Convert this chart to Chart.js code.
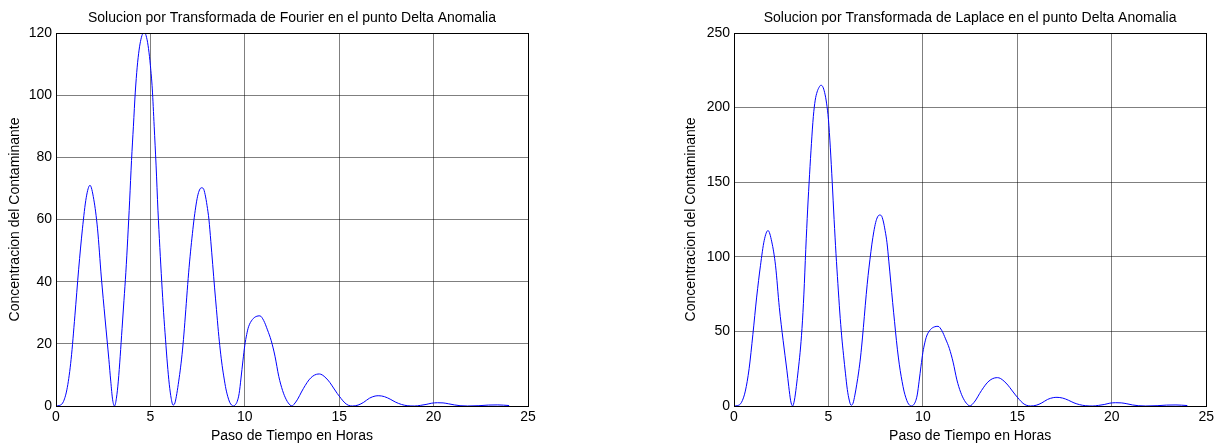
<!DOCTYPE html>
<html>
<head>
<meta charset="utf-8">
<script src="https://cdn.jsdelivr.net/npm/chart.js@4"></script>
<style>
    html, body { margin: 0; padding: 0; background: #fff; }
    .box { position: absolute; top: 0; height: 448px; }
    #boxF { left: 0; width: 608px; }
    #boxL { left: 676px; width: 541px; }
</style>
</head>
<body>
<div class="box" id="boxF"><canvas id="chartF" width="608" height="448"></canvas></div>
<div class="box" id="boxL"><canvas id="chartL" width="541" height="448"></canvas></div>
<script>
// Tiempo (horas)
const horas = [
    0, 0.2, 0.4, 0.6, 0.8, 1.0, 1.2, 1.4, 1.6, 1.8, 2.0, 2.2, 2.4, 2.6, 2.8, 2.9, 3.0, 3.1,
    3.2, 3.3, 3.4, 3.5, 3.6, 3.7, 3.8, 3.9, 4.0, 4.1, 4.2, 4.3, 4.4, 4.5, 4.6, 4.7, 4.8, 4.9,
    5.0, 5.1, 5.2, 5.3, 5.4, 5.5, 5.6, 5.7, 5.8, 5.9, 6.0, 6.1, 6.2,
    6.3, 6.4, 6.5, 6.6, 6.7, 6.8, 6.9, 7.0, 7.1, 7.2, 7.3, 7.4, 7.5, 7.6, 7.7, 7.8, 7.9,
    8.0, 8.1, 8.2, 8.3, 8.4, 8.5, 8.6, 8.7, 8.8, 8.9, 9.0, 9.1, 9.2, 9.3, 9.4,
    9.5, 9.6, 9.7, 9.8, 9.9, 10.0, 10.1, 10.2, 10.4, 10.6, 10.8, 11.0, 11.2, 11.4, 11.6, 11.8, 12.0, 12.2, 12.4, 12.5,
    12.6, 12.8, 13.0, 13.2, 13.4, 13.6, 13.8, 13.95, 14.1, 14.3, 14.5, 14.7, 14.9, 15.1, 15.3, 15.5, 15.7,
    16.0, 16.3, 16.6, 16.9, 17.1, 17.4, 17.7, 18.0, 18.3, 18.6, 19.0,
    19.3, 19.6, 19.9, 20.2, 20.5, 20.8, 21.1, 21.4, 21.8,
    22.4, 22.9, 23.4, 24.0
];

// Concentracion - Transformada de Fourier
const fourier = [
    0, 0.2, 1.5, 6, 15, 29, 44, 57, 67, 71, 66.5, 57, 41.5, 28, 15, 8, 2, 0,
    2.5, 8, 16, 25, 34, 43, 54, 66, 79, 90, 101, 109, 114.5, 118, 119.8, 120, 118.5, 115,
    109.5, 102, 90, 77.5, 63, 51, 40, 30, 21.5, 13.5, 7, 2.5, 0.3,
    1, 4, 8, 12.5, 18, 25, 33, 41, 48, 54, 59.5, 64, 67.5, 69.5, 70.2, 70, 68,
    64.5, 60, 53, 45.5, 38, 31, 24, 18, 13, 9, 5.5, 3, 1.2, 0.3, 0,
    0.4, 1.5, 4, 9, 14.5, 19.5, 23, 25.5, 27.8, 28.8, 29, 27.5, 24.5, 21, 16, 9.5, 5, 2, 0.3, 0,
    0.5, 2.2, 4.5, 6.6, 8.4, 9.6, 10.2, 10.3, 10, 9, 7.6, 5.8, 4, 2.4, 1, 0.2, 0,
    0.3, 1.2, 2.5, 3.2, 3.3, 3.0, 2.2, 1.2, 0.5, 0.1, 0,
    0.2, 0.5, 0.9, 1.05, 1.0, 0.7, 0.35, 0.1, 0,
    0.1, 0.3, 0.35, 0.15
];

// Concentracion - Transformada de Laplace
const laplace = [
    0, 0.3, 2.5, 10, 25, 48, 73, 94, 111, 117.6, 110, 94, 66, 44, 24, 13, 3.5, 0,
    4, 13, 24, 36, 52, 75, 105, 132, 155, 176, 194, 205, 210.5, 213.5, 215, 214, 210, 203,
    192, 173, 150, 125, 102, 82, 63, 47, 34, 22, 11, 4, 0.5,
    1.8, 7.3, 14.6, 22.8, 32.8, 45.6, 60, 74.7, 87.5, 98.4, 108.5, 116.7, 123, 126.7, 128, 127.6, 124,
    117.6, 109.4, 96.6, 83, 69.3, 56.5, 43.8, 32.8, 23.7, 16.4, 10, 5.5, 2.2, 0.5, 0,
    0.7, 2.8, 7.4, 16.6, 26.7, 35.9, 42.3, 46.9, 51.2, 53, 53.4, 50.6, 45, 38.6, 29.4, 17.5, 9.2, 3.7, 0.6, 0,
    0.9, 4, 8.3, 12.2, 15.5, 17.7, 18.8, 19, 18.5, 16.6, 14, 10.7, 7.4, 4.4, 1.8, 0.4, 0,
    0.5, 2.1, 4.4, 5.6, 5.8, 5.3, 3.9, 2.1, 0.9, 0.2, 0,
    0.4, 1, 1.9, 2.2, 2.1, 1.5, 0.7, 0.2, 0,
    0.2, 0.6, 0.7, 0.3
];

const xMax = 25, xStep = 5;
const yMaxF = 120, yStepF = 20;
const yMaxL = 250, yStepL = 50;

const fuente = { family: '"Liberation Sans", Arial, sans-serif', size: 14 };

// Marco completo alrededor del area (estilo MATLAB)
const marco = {
    id: 'marco',
    afterDraw(chart) {
        const { ctx, chartArea: a } = chart;
        ctx.save();
        ctx.strokeStyle = '#000';
        ctx.lineWidth = 1;
        ctx.strokeRect(Math.round(a.left) + 0.5, Math.round(a.top) + 0.5,
            Math.round(a.right - a.left), Math.round(a.bottom - a.top));
        ctx.restore();
    }
};

function crearGrafico(id, titulo, valores, yMax, yStep, anchoY, padDer) {
    const ctx = document.getElementById(id).getContext('2d');
    return new Chart(ctx, {
        type: 'line',
        data: {
            datasets: [{
                data: horas.map((h, i) => ({ x: h, y: valores[i] })),
                borderColor: 'rgb(0, 0, 255)',
                borderWidth: 1,
                pointRadius: 0,
                fill: false,
                cubicInterpolationMode: 'monotone'
            }]
        },
        options: {
            responsive: false,
            animation: false,
            layout: { padding: { left: 0, right: padDer, top: 0, bottom: 0 } },
            plugins: {
                legend: { display: false },
                tooltip: { enabled: false }
            },
            scales: {
                x: {
                    type: 'linear',
                    min: 0,
                    max: xMax,
                    afterFit: s => { s.height = 42; },
                    ticks: { stepSize: xStep, color: '#000', font: fuente, padding: 3, maxRotation: 0 },
                    grid: { color: 'rgba(0,0,0,0.5)', drawTicks: false },
                    border: { color: '#000' },
                    title: {
                        display: true,
                        text: 'Paso de Tiempo en Horas',
                        color: '#000',
                        font: fuente,
                        padding: { top: 0, bottom: 3 }
                    }
                },
                // eje superior solo para centrar el titulo sobre el area del grafico
                arriba: {
                    type: 'linear',
                    position: 'top',
                    min: 0,
                    max: xMax,
                    afterFit: s => { s.height = 33; },
                    ticks: { display: false },
                    grid: { display: false },
                    border: { display: false },
                    title: {
                        display: true,
                        text: titulo,
                        color: '#000',
                        font: fuente,
                        padding: { top: 10, bottom: 0 }
                    }
                },
                y: {
                    min: 0,
                    max: yMax,
                    afterFit: s => { s.width = anchoY; },
                    ticks: { stepSize: yStep, color: '#000', font: fuente, padding: 4 },
                    grid: { color: 'rgba(0,0,0,0.5)', drawTicks: false },
                    border: { color: '#000' },
                    title: {
                        display: true,
                        text: 'Concentracion del Contaminante',
                        color: '#000',
                        font: fuente,
                        padding: { top: 7, bottom: 0 }
                    }
                }
            }
        },
        plugins: [marco]
    });
}

crearGrafico('chartF', 'Solucion por Transformada de Fourier en el punto Delta Anomalia',
    fourier, yMaxF, yStepF, 56, 80);
crearGrafico('chartL', 'Solucion por Transformada de Laplace en el punto Delta Anomalia',
    laplace, yMaxL, yStepL, 58, 10);
</script>
</body>
</html>
